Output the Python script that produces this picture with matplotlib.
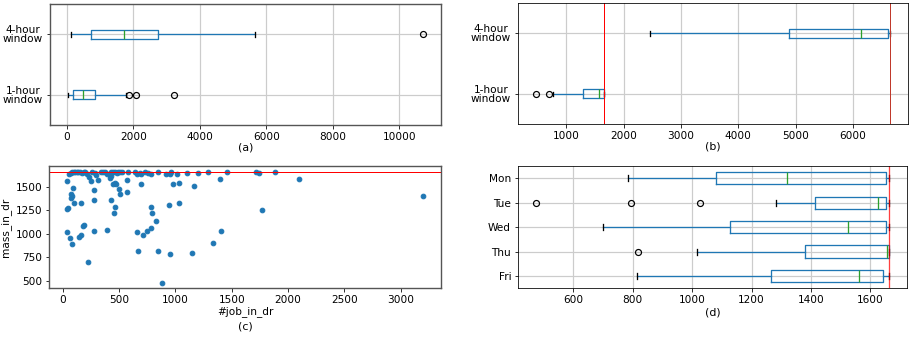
import matplotlib.pyplot as plt

# job counts per window (box statistics)
win_labels = ['1-hour\nwindow', '4-hour\nwindow']
jobs_lo = [30, 120]
jobs_q1 = [180, 722]
jobs_med = [481, 1734]
jobs_q3 = [852, 2757]
jobs_hi = [1794, 5664]
jobs_fliers = [[1885, 2085, 3218], [10710]]

# mass per window (box statistics)
mass_lo = [773, 2453]
mass_q1 = [1285, 4878]
mass_med = [1570, 6145]
mass_q3 = [1663, 6610]
mass_hi = [1663, 6651]
mass_fliers = [[471, 692], []]

capacity = 1663

# 1-hour windows: #job_in_dr vs mass_in_dr
job_in_dr = [59, 72, 86, 98, 110, 125, 140, 155, 170, 185, 200, 215, 262, 285,
             300, 340, 356, 378, 395, 430, 445, 462, 478, 492, 510, 528, 579,
             639, 660, 684, 698, 728, 757, 781, 846, 921, 950, 965, 1016, 1105,
             1203, 1292, 1458, 1714, 1743, 1880,
             42, 92, 77, 80, 74, 101, 50, 39, 166, 232, 250, 279, 276, 312,
             39, 68, 83, 143, 163, 178, 187, 282, 226, 395, 428, 454, 466, 446,
             460, 472, 499, 505, 567, 567, 695, 656, 671, 716, 748, 781, 787,
             790, 826, 882, 849, 947, 950, 977, 1034, 1167, 1396, 1034, 1764,
             1408, 1336, 1149, 2094, 3199, 416, 425]
mass_in_dr = [1639, 1650, 1661, 1664, 1654, 1664, 1657, 1664, 1650, 1661, 1664,
              1640, 1664, 1646, 1632, 1654, 1664, 1661, 1643, 1664, 1657, 1664,
              1650, 1661, 1664, 1664, 1664, 1661, 1643, 1650, 1639, 1664, 1646,
              1643, 1664, 1636, 1639, 1664, 1643, 1650, 1646, 1661, 1657, 1664,
              1650, 1664,
              1561, 1493, 1421, 1404, 1382, 1325, 1279, 1268, 1332, 1611, 1561,
              1464, 1357, 1571, 1018, 950, 893, 971, 989, 1082, 1093, 1032, 700,
              1036, 1364, 1225, 1286, 1536, 1539, 1536, 1475, 1429, 1571, 1450,
              1532, 1021, 818, 986, 1029, 1064, 1286, 1225, 1132, 478, 821, 1307,
              786, 1529, 1546, 1507, 1582, 1325, 1257, 1029, 907, 800, 1586,
              1404, 1600, 1618]

# mass per weekday (box statistics)
days = ['Mon', 'Tue', 'Wed', 'Thu', 'Fri']
day_lo = [783, 1281, 699, 1017, 815]
day_q1 = [1081, 1414, 1129, 1379, 1264]
day_med = [1321, 1625, 1526, 1657, 1562]
day_q3 = [1652, 1653, 1653, 1663, 1642]
day_hi = [1665, 1665, 1665, 1665, 1665]
day_fliers = [[], [473, 795, 1027], [], [816], []]


def make_stats(lo, q1, med, q3, hi, fliers):
    return [dict(whislo=a, q1=b, med=c, q3=d, whishi=e, fliers=f)
            for a, b, c, d, e, f in zip(lo, q1, med, q3, hi, fliers)]


def draw_box(ax, stats, positions, labels, width):
    ax.bxp(stats, positions=positions, widths=width, orientation='horizontal',
           boxprops=dict(color='C0', lw=1.3), whiskerprops=dict(color='C0', lw=1.3),
           medianprops=dict(color='C2', lw=1.3), capprops=dict(color='k', lw=1.3),
           flierprops=dict(marker='o', markerfacecolor='none',
                           markeredgecolor='k', markeredgewidth=1.2))
    ax.grid(True, color='#cccccc', lw=1.2)
    ax.set_yticks(positions, labels)
    for lbl in ax.get_yticklabels():
        lbl.set_multialignment('center')
        lbl.set_linespacing(0.9)


plt.rcParams['font.size'] = 10.5
fig = plt.figure(figsize=(909 / 72, 337 / 72), dpi=72)

ax_a = fig.add_axes([0.055, 0.629, 0.430, 0.359])
ax_b = fig.add_axes([0.570, 0.632, 0.429, 0.359])
ax_c = fig.add_axes([0.0542, 0.1445, 0.431, 0.363])
ax_d = fig.add_axes([0.570, 0.1445, 0.428, 0.363])

draw_box(ax_a, make_stats(jobs_lo, jobs_q1, jobs_med, jobs_q3, jobs_hi, jobs_fliers),
         [1, 2], win_labels, 0.15)
ax_a.set_xlabel('(a)', fontsize=11, labelpad=0)

draw_box(ax_b, make_stats(mass_lo, mass_q1, mass_med, mass_q3, mass_hi, mass_fliers),
         [1, 2], win_labels, 0.15)
ax_b.axvline(capacity, color='red', lw=1)
ax_b.axvline(4 * capacity, color='#c0392b', lw=1)
ax_b.set_xlabel('(b)', fontsize=11, labelpad=0)

ax_c.scatter(job_in_dr, mass_in_dr, s=22, color='C0')
ax_c.axhline(capacity, color='red', lw=1)
ax_c.set_yticks([500, 750, 1000, 1250, 1500])
ax_c.set_xlabel('#job_in_dr', labelpad=1)
ax_c.set_ylabel('mass_in_dr')
ax_c.text(0.5, -0.31, '(c)', transform=ax_c.transAxes, ha='center', va='center',
          fontsize=11)

draw_box(ax_d, make_stats(day_lo, day_q1, day_med, day_q3, day_hi, day_fliers),
         [5, 4, 3, 2, 1], days, 0.5)
ax_d.axvline(capacity, color='red', lw=1.3, alpha=0.75)
ax_d.set_xlabel('(d)', fontsize=11, labelpad=2)

for ax in (ax_a, ax_c):
    for sp in ax.spines.values():
        sp.set_color('#555555')
        sp.set_linewidth(1.4)

fig.savefig('out.png', dpi=72)
